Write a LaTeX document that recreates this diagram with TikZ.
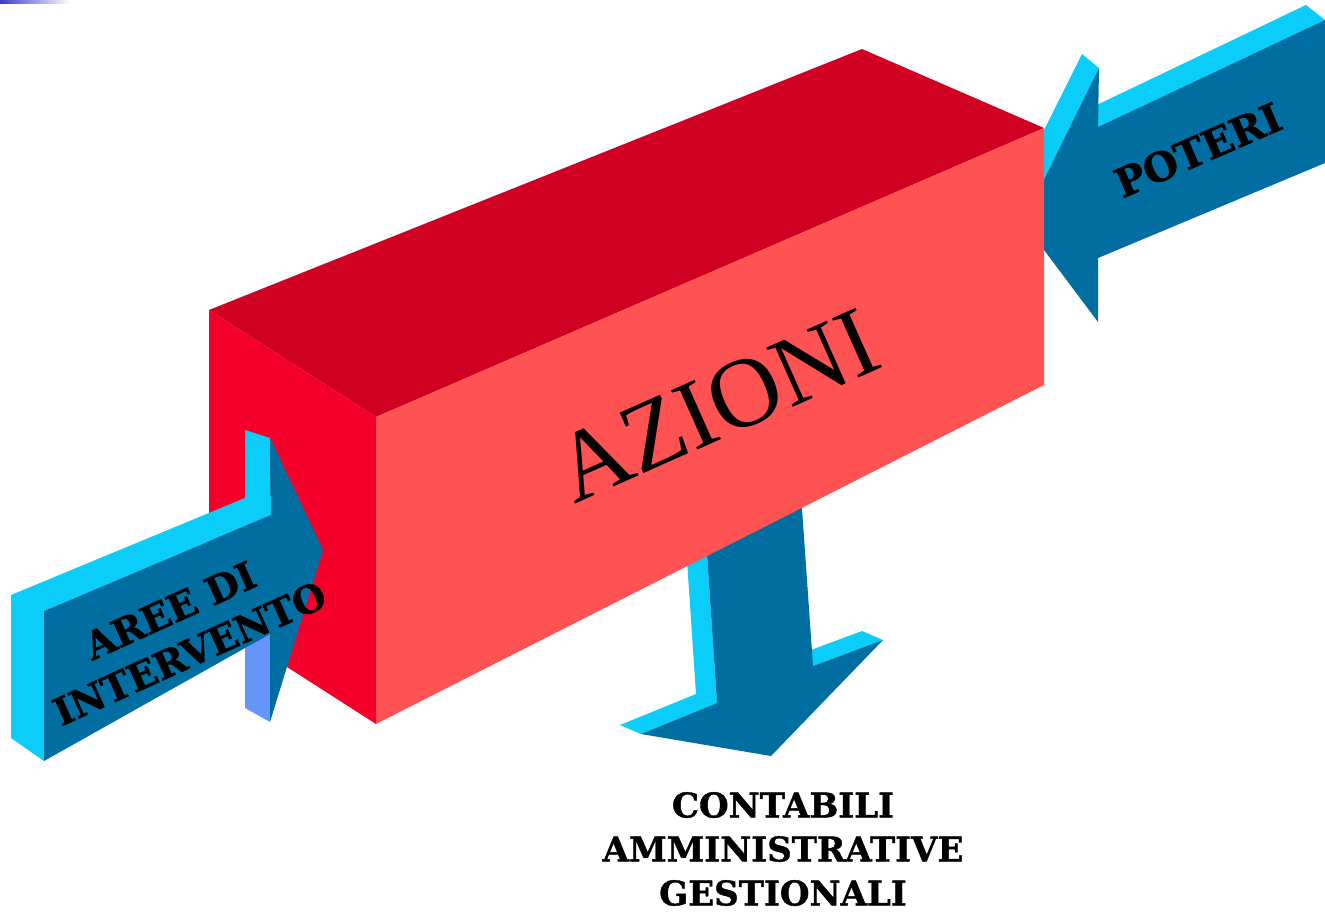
\documentclass[tikz,border=0pt]{standalone}
\usepackage{fontspec}
\setmainfont{Liberation Serif}
\newfontfamily\bkfont[FakeBold=1.2]{DejaVu Serif}
\definecolor{cyanside}{RGB}{10,205,250}
\definecolor{darkblue}{RGB}{0,110,160}
\definecolor{periw}{RGB}{100,150,250}
\definecolor{frontred}{RGB}{255,82,82}
\definecolor{topred}{RGB}{207,0,33}
\definecolor{leftred}{RGB}{245,0,42}
\definecolor{barblue}{RGB}{60,60,200}
\tikzset{
  lbl/.style 2 args={font=\bkfont\bfseries\fontsize{#1}{#2}\selectfont, text=black, inner sep=0pt, align=center},
}
\begin{document}
\begin{tikzpicture}[x=1pt,y=-1pt]
\useasboundingbox (0,0) rectangle (1325,922);
% top-left gradient bar
\shade[left color=barblue, right color=white] (0,0) rectangle (70,3);
% POTERI arrow (behind box)
\fill[cyanside] (1082,54) -- (1099,68) -- (1023,222) -- (1005,208) -- cycle;
\fill[cyanside] (1080,113) -- (1306,5) -- (1325,20) -- (1098,127) -- cycle;
\fill[darkblue] (1023,222) -- (1099,68) -- (1098,127) -- (1325,20) -- (1325,163) -- (1098,258) -- (1098,322) -- cycle;
% bottom arrow (behind box)
\fill[cyanside] (681,471) -- (702,480) -- (717,703) -- (696,694) -- cycle;
\fill[cyanside] (717,703) -- (641,734) -- (620,725) -- (696,694) -- cycle;
\fill[cyanside] (792,657) -- (862,631) -- (883,640) -- (813,666) -- cycle;
\fill[darkblue] (702,480) -- (800,480) -- (813,666) -- (883,640) -- (771,756) -- (641,734) -- (717,703) -- cycle;
% box
\fill[topred] (209,310) -- (862,49) -- (1044,128) -- (376,417) -- cycle;
\fill[leftred] (209,310) -- (376,417) -- (376,724) -- (209,617) -- cycle;
\fill[frontred] (376,417) -- (1044,128) -- (1044,385) -- (376,724) -- cycle;
% AREE DI INTERVENTO arrow (in front of box)
\fill[cyanside] (11,595) -- (245,498) -- (245,430) -- (270,438) -- (271,515) -- (44,611) -- (44,761) -- (11,738) -- cycle;
\fill[periw] (245,648) -- (270,634) -- (270,722) -- (245,708) -- cycle;
\fill[darkblue] (44,611) -- (271,515) -- (270,438) -- (323,550) -- (270,722) -- (270,634) -- (44,761) -- cycle;
% labels
\node[inner sep=0pt, rotate=24, font=\fontsize{99}{99}\selectfont] (azioni) at (717,406) {AZIONI};
\node[lbl={40}{40}, rotate=23.5] (poteri) at (1198,150) {POTERI};
\node[lbl={38}{47}, rotate=24.4] (aree) at (180,632) {AREE DI\\INTERVENTO};
\node[lbl={34}{44}] (outputs) at (783,849) {CONTABILI\\AMMINISTRATIVE\\GESTIONALI};
\end{tikzpicture}
\end{document}
